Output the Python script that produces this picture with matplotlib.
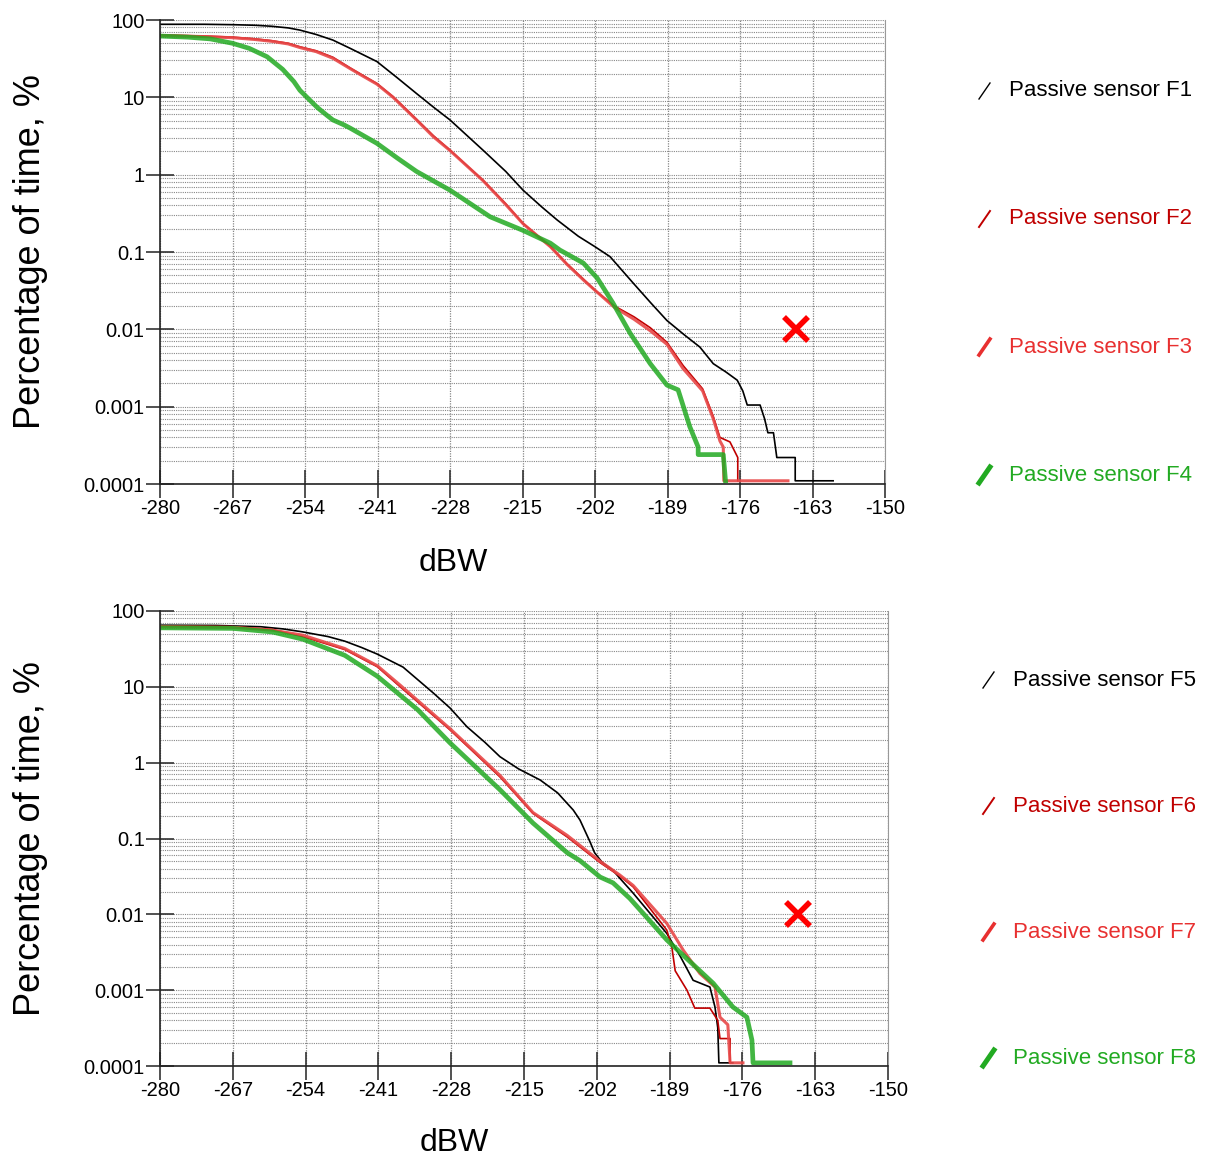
import matplotlib
matplotlib.use("Agg")
import matplotlib.pyplot as plt
from matplotlib.lines import Line2D
from matplotlib.ticker import LogLocator, FixedLocator, NullFormatter
import numpy as np

# ---- data (dBW, percentage of time) ----
xticks = [-280, -267, -254, -241, -228, -215, -202, -189, -176, -163, -150]
yticks = [100, 10, 1, 0.1, 0.01, 0.001, 0.0001]
ytick_labels = ["100", "10", "1", "0.1", "0.01", "0.001", "0.0001"]

# top panel
f1_x = [-280, -272, -267, -263, -260, -257, -254.9, -252, -249, -245.9, -241.1, -237.5, -234,
        -231, -228, -222.1, -218, -214.9, -211.5, -208.8, -205, -202, -199.3, -195.2, -192,
        -189.1, -186, -183.2, -180.8, -178.5, -176.5, -175.5, -174.7, -172.4, -171.6,
        -171, -170, -169.4, -166.1, -166.1, -159.3]
f1_y = [88, 88, 87, 85.5, 83, 79, 74, 65, 55, 43, 29, 18, 11.2,
        7.5, 5.1, 2.08, 1.1, 0.63, 0.38, 0.26, 0.16, 0.117, 0.087, 0.04, 0.022,
        0.013, 0.0085, 0.0059, 0.0036, 0.0028, 0.0022, 0.0016, 0.00105, 0.00105, 0.0007,
        0.00046, 0.00046, 0.00022, 0.00022, 0.00011, 0.00011]

f2_x = [-280, -272, -267, -263, -260, -257, -254.9, -252, -249, -245.9, -243.5, -241.1, -238.2,
        -234, -231, -228, -222.1, -218, -214.9, -210, -207, -204, -202, -198.5, -195, -192.1,
        -189.1, -186.2, -182.7, -180.8, -179.6, -177.8, -176.4, -176.4]
f2_y = [64, 62, 60, 57, 54, 50, 45, 40, 33, 24, 19, 15.1, 10.2,
        5.2, 3.2, 2.08, 0.85, 0.42, 0.234, 0.118, 0.07, 0.044, 0.032, 0.02, 0.0145, 0.0105,
        0.0068, 0.0034, 0.0017, 0.00075, 0.0004, 0.00035, 0.00022, 0.00011]

f3_x = [-280, -272, -267, -263, -260, -257, -254.9, -252, -249, -245.9, -243.5, -241.1, -238.2,
        -234, -231, -228, -222.1, -218, -214.9, -210, -207, -204, -202, -198.5, -195, -192.1,
        -189.1, -186.2, -182.7, -180.8, -179.6, -179, -178.9, -167.4]
f3_y = [63, 61, 59, 56, 53, 49, 44, 39, 32, 23.5, 18.6, 14.8, 10.0,
        5.1, 3.1, 2.05, 0.84, 0.41, 0.232, 0.117, 0.069, 0.043, 0.032, 0.0192, 0.0135, 0.0096,
        0.0064, 0.0031, 0.0016, 0.0007, 0.00036, 0.0003, 0.00011, 0.00011]

f4_x = [-280, -275, -271, -267, -264, -260.8, -258, -256, -254.9, -253, -251.8, -250, -249,
        -247, -245.9, -241.1, -237.5, -234, -228, -220.8, -214.9, -210, -208.3, -204.1, -201.6,
        -198.8, -195.7, -192.1, -189.1, -187.1, -185, -183.5, -183.5, -179, -178.6]
f4_y = [62, 60, 57, 50, 43, 33.5, 23, 16, 12.3, 9, 7.4, 5.8, 5.1,
        4.4, 4.0, 2.54, 1.65, 1.1, 0.63, 0.285, 0.19, 0.13, 0.106, 0.072, 0.046,
        0.022, 0.0089, 0.0036, 0.0019, 0.00165, 0.00055, 0.0003, 0.00024, 0.00024, 0.00011]

# bottom panel
f5_x = [-280, -270, -262, -258, -254.5, -250, -247, -244, -241.2, -236.6, -231.2, -228.2,
        -225.2, -222, -219.3, -216, -212.1, -209, -206.2, -205, -203.2, -202.4, -201, -199.1,
        -197.9, -195.5, -189.5, -187.1, -184.8, -181.8, -180.9, -180.4, -180.2, -177.7]
f5_y = [65, 64.5, 62, 58, 53, 46, 40, 33, 27, 18.2, 8.3, 5.25,
        2.98, 1.86, 1.2, 0.83, 0.59, 0.4, 0.237, 0.175, 0.09, 0.065, 0.048, 0.038,
        0.03, 0.019, 0.0056, 0.0028, 0.00135, 0.0011, 0.0006, 0.00032, 0.00011, 0.00011]

f6_x = [-280, -267, -260, -254.5, -247, -241.2, -237.1, -228.2, -219.3, -213.4, -207.3, -201.4,
        -197.9, -195.5, -189.5, -188.6, -188.0, -185.9, -184.5, -181.8, -180.4, -180.0, -178.2,
        -178.2]
f6_y = [63, 62, 57, 46, 31, 18.4, 10, 2.7, 0.65, 0.214, 0.105, 0.048,
        0.032, 0.023, 0.0062, 0.0037, 0.0018, 0.001, 0.00058, 0.00058, 0.0004, 0.00023, 0.00023,
        0.00011]

f7_x = [-280, -267, -260, -254.5, -247, -241.2, -237.1, -228.2, -219.3, -213.4, -207.3, -201.4,
        -197.9, -195.5, -189.5, -186.6, -183.6, -180.9, -180.0, -178.6, -178.2, -175.9]
f7_y = [62, 61, 56, 48, 32, 19, 10.5, 2.8, 0.68, 0.22, 0.11, 0.05,
        0.033, 0.024, 0.0076, 0.0034, 0.00166, 0.0011, 0.00044, 0.00035, 0.00011, 0.00011]

f8_x = [-280, -267, -260, -254.5, -247, -241.2, -234, -228.2, -219.3, -213.4, -207.3, -205,
        -201.4, -199.1, -196.1, -189.5, -183.6, -181.2, -177.7, -175.2, -174.3, -174.1, -167.5]
f8_y = [60, 59, 53, 42.5, 26, 13.8, 5.0, 1.82, 0.44, 0.16, 0.065, 0.051,
        0.031, 0.026, 0.0162, 0.0046, 0.0018, 0.00123, 0.0006, 0.00044, 0.00022, 0.00011, 0.00011]

mask_x = [-166]
mask_y = [0.01]

top_names = ["Passive sensor F1", "Passive sensor F2", "Passive sensor F3", "Passive sensor F4"]
bot_names = ["Passive sensor F5", "Passive sensor F6", "Passive sensor F7", "Passive sensor F8"]

# styles: colour, linewidth, alpha
styles = [("#000000", 1.2, 1.0), ("#c00000", 1.2, 1.0), ("#e84848", 2.2, 0.9), ("#22aa22", 3.4, 0.85)]

font = ["Liberation Sans", "DejaVu Sans"]

fig = plt.figure(figsize=(12.08, 11.60), dpi=100)
ax_top = fig.add_axes([160 / 1208, 1 - 484 / 1160, 725 / 1208, 464 / 1160])
ax_bot = fig.add_axes([160 / 1208, 1 - 1066 / 1160, 728 / 1208, 455 / 1160])


def setup(ax):
    ax.set_yscale("log")
    ax.set_xlim(-280, -150)
    ax.set_ylim(0.0001, 100)
    ax.xaxis.set_major_locator(FixedLocator(xticks))
    ax.set_xticklabels([str(t) for t in xticks], family=font, fontsize=14.5)
    ax.yaxis.set_major_locator(FixedLocator(yticks))
    ax.set_yticklabels(ytick_labels, family=font, fontsize=14.5)
    ax.yaxis.set_minor_locator(LogLocator(base=10, subs=np.arange(2, 10), numticks=20))
    ax.yaxis.set_minor_formatter(NullFormatter())
    ax.tick_params(axis="both", which="major", direction="inout", length=20, width=1.2,
                   color="#333333", pad=1)
    ax.tick_params(axis="y", which="minor", length=0)
    ax.grid(True, which="both", axis="y", color="#888888", linestyle=(0, (1, 1)), linewidth=0.8)
    ax.grid(True, which="major", axis="x", color="#888888", linestyle=(0, (1, 1)), linewidth=0.9)
    ax.spines["top"].set_visible(False)
    ax.spines["right"].set_color("#999999")
    ax.spines["left"].set_color("#222222")
    ax.spines["bottom"].set_color("#222222")
    ax.spines["left"].set_linewidth(1.2)
    ax.spines["bottom"].set_linewidth(1.2)
    ax.set_ylabel("Percentage of time, %", family=font, fontsize=26)
    w = ax.get_position().width * 1208
    ax.yaxis.set_label_coords(-112 / w, 0.5)
    ax.text(0.404, -0.17, "dBW", transform=ax.transAxes, ha="center", va="center",
            family=font, fontsize=23)


def draw(ax, series):
    for (x, y), (c, lw, a) in zip(series, styles):
        ax.plot(x, y, color=c, linewidth=lw, alpha=a)
    ax.plot(mask_x, mask_y, marker="x", color="#ff0000", markersize=17, markeredgewidth=4,
            linestyle="none")


setup(ax_top)
setup(ax_bot)
draw(ax_top, [(f1_x, f1_y), (f2_x, f2_y), (f3_x, f3_y), (f4_x, f4_y)])
draw(ax_bot, [(f5_x, f5_y), (f6_x, f6_y), (f7_x, f7_y), (f8_x, f8_y)])

# legend entries on the right
leg_colors = ["#000000", "#c00000", "#e83030", "#22aa22"]
leg_widths = [1.0, 1.4, 2.6, 3.6]
text_colors = ["#000000", "#c00000", "#e83030", "#22aa22"]


def legend(names, ys, x_mark, x_text):
    for name, yc, c, lw, tc in zip(names, ys, leg_colors, leg_widths, text_colors):
        yf = 1 - yc / 1160
        fig.add_artist(Line2D([x_mark / 1208, (x_mark + 11) / 1208],
                              [yf - 8 / 1160, yf + 8 / 1160], color=c, linewidth=lw))
        fig.text(x_text / 1208, yf, name, color=tc, family=font, fontsize=16,
                 ha="left", va="center")


legend(top_names, [91, 219, 347, 475], 979, 1009)
legend(bot_names, [680, 806, 932, 1058], 983, 1013)

fig.savefig("out.png", dpi=100)
